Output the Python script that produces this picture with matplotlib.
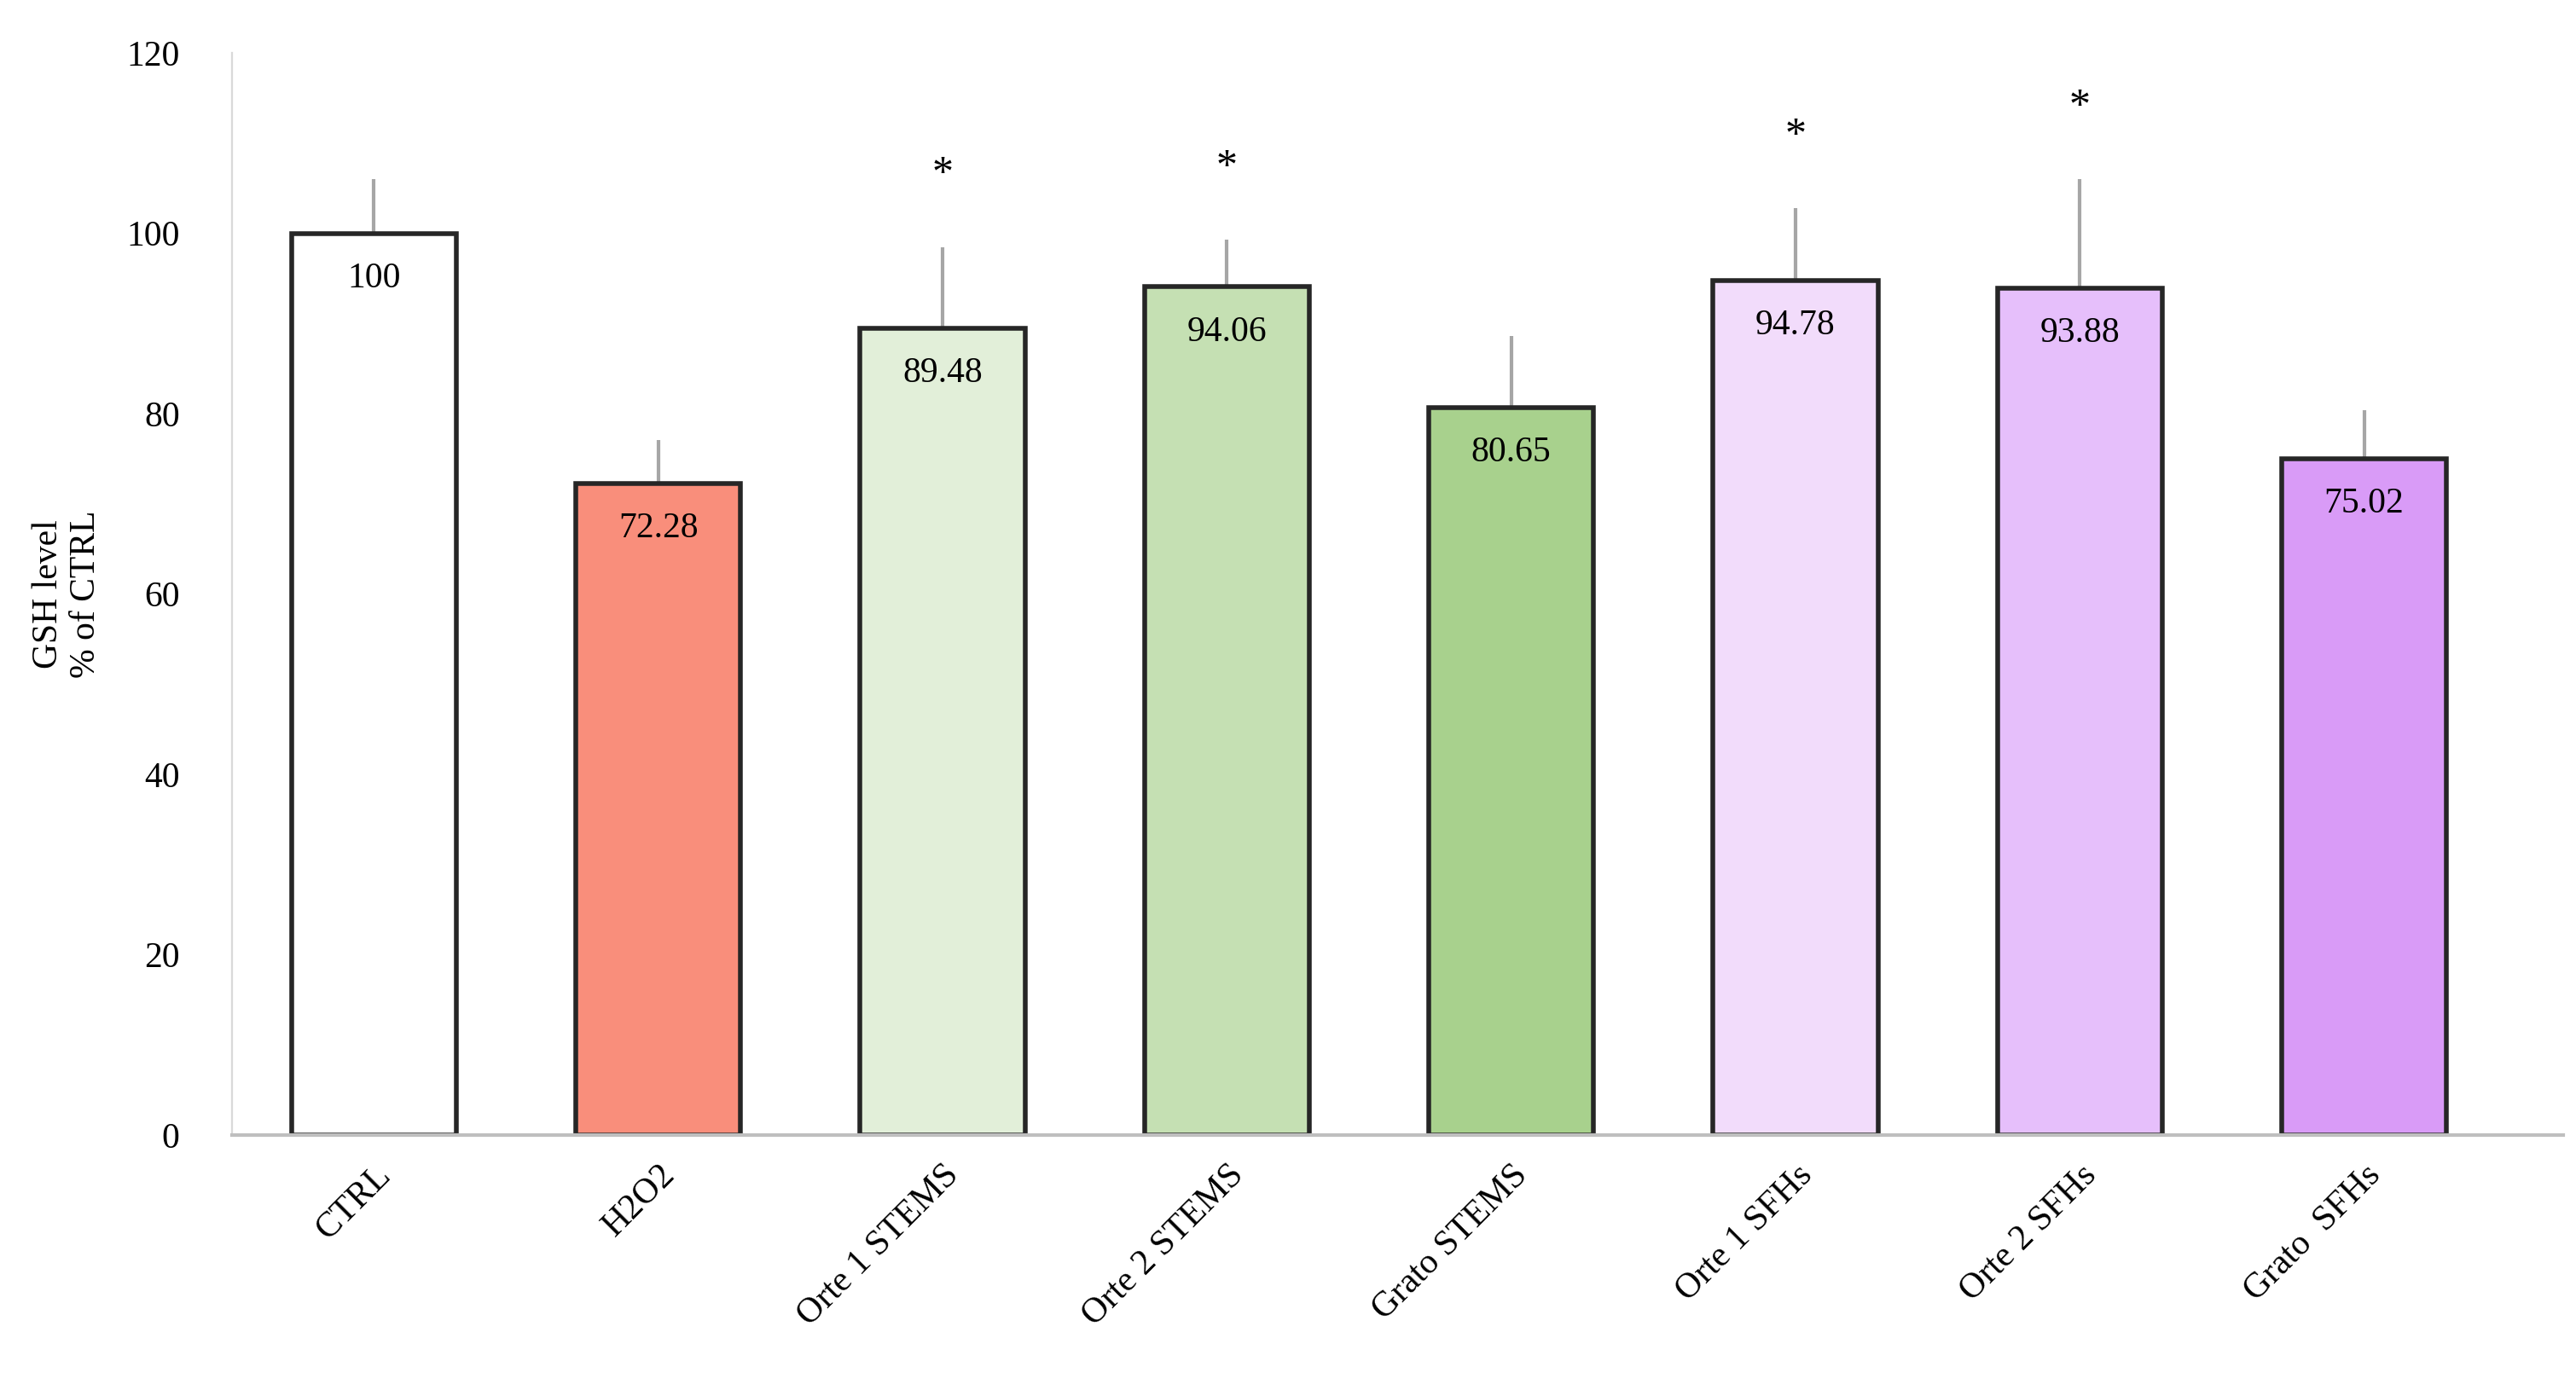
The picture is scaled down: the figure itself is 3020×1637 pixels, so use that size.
import numpy as np
import matplotlib.pyplot as plt

plt.rcParams['font.family'] = ['Liberation Serif', 'DejaVu Serif']

categories = ['CTRL', 'H2O2', 'Orte 1 STEMS', 'Orte 2 STEMS', 'Grato STEMS',
              'Orte 1 SFHs', 'Orte 2 SFHs', 'Grato  SFHs']
values = [100, 72.28, 89.48, 94.06, 80.65, 94.78, 93.88, 75.02]
errors = [6.0, 4.8, 9.0, 5.2, 8.0, 8.0, 12.1, 5.4]
labels = ['100', '72.28', '89.48', '94.06', '80.65', '94.78', '93.88', '75.02']
significant = [False, False, True, True, False, True, True, False]
colors = ['#FFFFFF', '#F98E7B', '#E2EFD9', '#C5E0B3', '#A8D18D',
          '#F2DCFB', '#E6BFFB', '#D99BF7']

fig = plt.figure(figsize=(15.1, 8.185), dpi=200)
ax = fig.add_axes([0.09, 0.187, 0.905, 0.775])

x = np.arange(len(categories))
ax.bar(x, values, width=0.58, color=colors, edgecolor='#262626', linewidth=2, zorder=2)
ax.errorbar(x, values, yerr=[np.zeros(len(x)), errors], fmt='none',
            ecolor='#A6A6A6', elinewidth=1.5, capsize=0, zorder=1)

for xi, v, lab in zip(x, values, labels):
    ax.text(xi, v - 5, lab, ha='center', va='center', fontsize=15, zorder=3)

for xi, v, e, s in zip(x, values, errors, significant):
    if s:
        ax.text(xi, v + e + 8, '*', ha='center', va='center', fontsize=18)

ax.set_ylim(0, 120)
ax.set_xlim(-0.5, len(x) - 0.3)
ax.set_yticks(range(0, 121, 20))
ax.set_xticks(x)
ax.set_xticklabels(categories, rotation=45, ha='right', rotation_mode='anchor', fontsize=15)
ax.tick_params(axis='y', labelsize=15, length=0, pad=22)
ax.tick_params(axis='x', length=0, pad=10)
ax.set_ylabel('GSH level\n% of CTRL', fontsize=15, labelpad=10)

for side in ['top', 'right']:
    ax.spines[side].set_visible(False)
ax.spines['left'].set_color('#D9D9D9')
ax.spines['bottom'].set_color('#BFBFBF')
ax.spines['bottom'].set_linewidth(1.5)

fig.savefig('out.png', dpi=200)
